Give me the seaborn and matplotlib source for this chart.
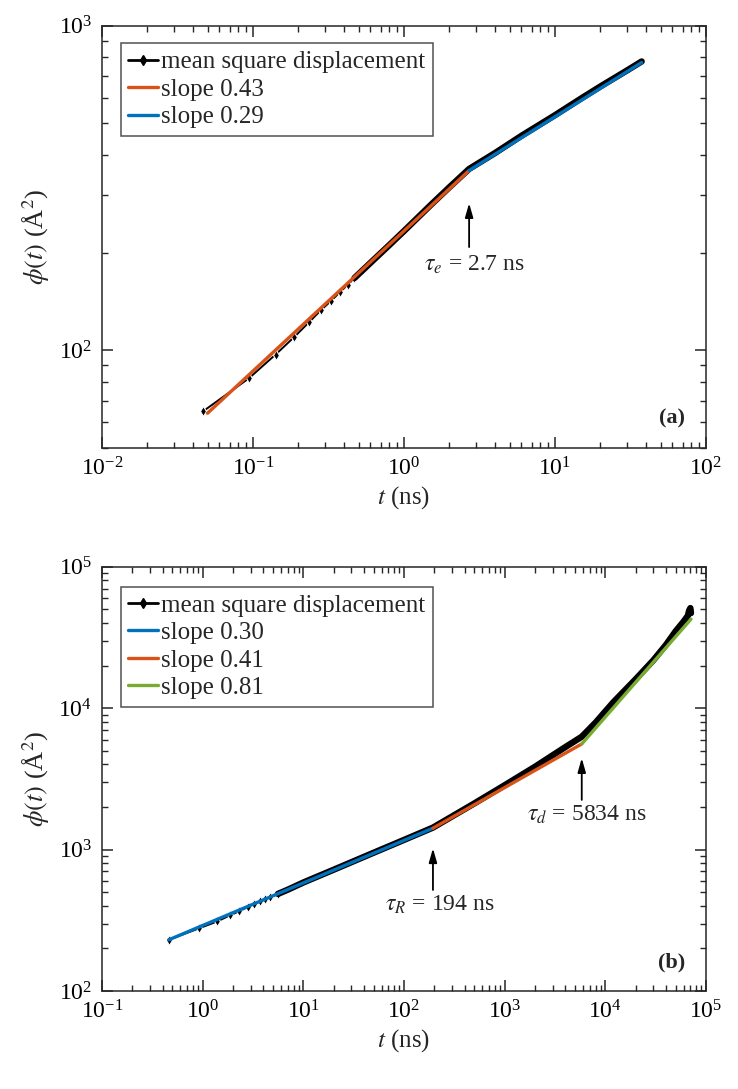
import numpy as np
import pandas as pd
import matplotlib
matplotlib.use("Agg")
import matplotlib.pyplot as plt
import seaborn as sns
from matplotlib.ticker import LogLocator, NullFormatter, FixedLocator
from matplotlib.lines import Line2D

# ---------------- data ----------------
# panel (a)
a_t = [0.047, 0.094, 0.141, 0.188, 0.235, 0.282, 0.329, 0.376, 0.423, 0.47,
       0.6, 0.8, 1.0, 1.5, 2.0, 2.7, 4.0, 6.0, 10.0, 15.0, 20.0, 30.0, 37.5]
a_phi = [65, 82, 97, 110, 122, 133, 142, 151, 159, 167,
         186, 211, 233, 280, 318, 362, 405, 458, 530, 598, 650, 728, 776]
a_fit1_t = [0.05, 2.7]
a_fit1_phi = [64, 358]
a_fit2_t = [2.7, 37.5]
a_fit2_phi = [358, 770]
a_labels = ["mean square displacement", "slope 0.43", "slope 0.29"]
a_tau = 2.7
a_xticks = [1e-2, 1e-1, 1e0, 1e1, 1e2]
a_yticks = [1e2, 1e3]

# panel (b)
b_t = [0.46, 0.93, 1.39, 1.86, 2.32, 2.79, 3.25, 3.72, 4.18, 4.65, 5.6, 7.0,
       10, 20, 50, 100, 194, 500, 1000, 2000, 4000, 5834, 8000, 12000,
       20000, 30000, 40000, 50000, 60000, 66000, 68000, 70000, 71000]
b_phi = [230, 278, 310, 342, 367, 392, 413, 430, 445, 460, 486, 520,
         585, 720, 950, 1170, 1430, 2120, 2850, 3850, 5300, 6280, 7900, 11000,
         16000, 21800, 28000, 35000, 41000, 45000, 49000, 51000, 47000]
b_fit1_t = [0.46, 194]
b_fit1_phi = [230, 1416]
b_fit2_t = [194, 5834]
b_fit2_phi = [1416, 5585]
b_fit3_t = [5834, 71000]
b_fit3_phi = [5585, 42600]
b_labels = ["mean square displacement", "slope 0.30", "slope 0.41", "slope 0.81"]
b_tau_R = 194
b_tau_d = 5834
b_xticks = [1e-1, 1e0, 1e1, 1e2, 1e3, 1e4, 1e5]
b_yticks = [1e2, 1e3, 1e4, 1e5]

BLUE = "#0072BD"
ORANGE = "#D95319"
GREEN = "#77AC30"
DARK = "#262626"

sns.set_theme(style="ticks")
plt.rcParams["font.family"] = ["Liberation Serif", "DejaVu Serif"]
plt.rcParams["mathtext.fontset"] = "stix"
plt.rcParams["axes.unicode_minus"] = False
plt.rcParams["axes.edgecolor"] = DARK
plt.rcParams["axes.linewidth"] = 1.1

fig = plt.figure(figsize=(7.38, 10.89), dpi=100)
ax1 = fig.add_axes([0.1382, 0.5886, 0.8184, 0.3878])
ax2 = fig.add_axes([0.1382, 0.0900, 0.8184, 0.3896])


def draw_msd(ax, t, phi, thick_from):
    df = pd.DataFrame({"t": t, "phi": phi})
    n_early = int((df["t"] < thick_from).sum()) + 1
    sns.lineplot(data=df, x="t", y="phi", ax=ax, color="black", lw=1.4,
                 marker="d", markersize=5.5, markeredgewidth=0.8,
                 markevery=list(range(n_early)), sort=False, zorder=2)
    thick = df[df["t"] >= thick_from]
    sns.lineplot(data=thick, x="t", y="phi", ax=ax, color="black", lw=4.6,
                 sort=False, zorder=2)


def draw_fit(ax, t, phi, color):
    sns.lineplot(x=t, y=phi, ax=ax, color=color, lw=2.4, sort=False, zorder=3)


def style_axes(ax, xlim, ylim, xticks, yticks):
    ax.set_xscale("log")
    ax.set_yscale("log")
    ax.set_xlim(*xlim)
    ax.set_ylim(*ylim)
    ax.xaxis.set_major_locator(FixedLocator(xticks))
    ax.yaxis.set_major_locator(FixedLocator(yticks))
    for a in (ax.xaxis, ax.yaxis):
        a.set_minor_locator(LogLocator(base=10, subs=np.arange(2, 10), numticks=100))
        a.set_minor_formatter(NullFormatter())
    ax.tick_params(which="both", direction="in", top=True, right=True,
                   colors=DARK, labelcolor="black", labelsize=17)
    ax.tick_params(which="major", length=8, width=1.1, pad=7)
    ax.tick_params(which="minor", length=4.5, width=1.0)
    for s in ax.spines.values():
        s.set_visible(True)
        s.set_color(DARK)
        s.set_linewidth(1.1)
    ax.set_xlabel("$t$ (ns)", fontsize=18, labelpad=2)
    ax.set_ylabel(r"$\phi(t)$ (Å$^2$)", fontsize=19, labelpad=5)


def add_legend(ax, colors, labels, anchor):
    handles = [Line2D([], [], color="black", lw=2, marker="d", markersize=5)]
    handles += [Line2D([], [], color=c, lw=2.4) for c in colors]
    leg = ax.legend(handles, labels, loc="upper left", bbox_to_anchor=anchor,
                    borderaxespad=0, fontsize=18, frameon=True, fancybox=False,
                    handlelength=1.2, handletextpad=0.12, labelspacing=0.2,
                    borderpad=0.3)
    leg.get_frame().set_edgecolor(DARK)
    leg.get_frame().set_linewidth(1.1)


def arrow(ax, x, y0, y1):
    ax.annotate("", xy=(x, y1), xytext=(x, y0),
                arrowprops=dict(arrowstyle="-|>,head_length=0.7,head_width=0.2",
                                color="black", lw=1.3, shrinkA=0, shrinkB=0))


# ---------------- panel (a) ----------------
draw_msd(ax1, a_t, a_phi, 0.47)
draw_fit(ax1, a_fit1_t, a_fit1_phi, ORANGE)
draw_fit(ax1, a_fit2_t, a_fit2_phi, BLUE)
style_axes(ax1, (1e-2, 1e2), (50, 1000), a_xticks, a_yticks)
add_legend(ax1, [ORANGE, BLUE], a_labels, (0.031, 0.958))
arrow(ax1, a_tau, 208, 284)
ax1.text(2.95, 183, r"$\tau_e$ = 2.7 ns", fontsize=17, ha="center", va="center")
ax1.text(0.965, 0.071, "(a)", transform=ax1.transAxes, fontsize=16,
         fontweight="bold", ha="right", va="center")

# ---------------- panel (b) ----------------
draw_msd(ax2, b_t, b_phi, 5.0)
draw_fit(ax2, b_fit1_t, b_fit1_phi, BLUE)
draw_fit(ax2, b_fit2_t, b_fit2_phi, ORANGE)
draw_fit(ax2, b_fit3_t, b_fit3_phi, GREEN)
style_axes(ax2, (1e-1, 1e5), (100, 1e5), b_xticks, b_yticks)
add_legend(ax2, [BLUE, ORANGE, GREEN], b_labels, (0.031, 0.953))
arrow(ax2, b_tau_R, 518, 1021)
ax2.text(229, 406, r"$\tau_R$ = 194 ns", fontsize=17, ha="center", va="center")
arrow(ax2, b_tau_d, 2244, 4430)
ax2.text(6577, 1758, r"$\tau_d$ = 5834 ns", fontsize=17, ha="center", va="center")
ax2.text(0.965, 0.068, "(b)", transform=ax2.transAxes, fontsize=16,
         fontweight="bold", ha="right", va="center")

fig.savefig("out.png", dpi=100, facecolor="white")
